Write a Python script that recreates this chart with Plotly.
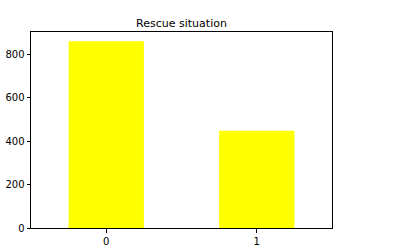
import plotly.graph_objects as go

categories = ["0", "1"]
counts = [861, 449]
title_text = "Rescue situation"
y_ticks = [0, 200, 400, 600, 800]

fig = go.Figure()
fig.add_trace(go.Bar(
    x=[0, 1], y=counts, width=0.5,
    marker=dict(color="#ffff00", line=dict(width=0)),
))

font = dict(family="DejaVu Sans", size=10, color="#000000")
fig.update_layout(
    width=394, height=249,
    margin=dict(l=31, r=62, t=32, b=21, autoexpand=False),
    paper_bgcolor="white", plot_bgcolor="white",
    showlegend=False,
    font=font,
    title=dict(text=title_text, x=(31 + 332) / 2 / 394, xanchor="center",
               y=1 - 23 / 249, yanchor="middle", font=dict(family="DejaVu Sans", size=11, color="#000")),
)
fig.update_xaxes(
    range=[-0.5, 1.5], tickmode="array", tickvals=[0, 1], ticktext=categories,
    showgrid=False, zeroline=False, showline=True, linecolor="#000", linewidth=1, mirror=True,
    ticks="outside", ticklen=3.5, tickwidth=1, tickcolor="#000", tickfont=font, automargin=False,
)
fig.update_yaxes(
    range=[0, 861 * 1.05], tickmode="array", tickvals=y_ticks,
    showgrid=False, zeroline=False, showline=True, linecolor="#000", linewidth=1, mirror=True,
    ticks="outside", ticklen=3.5, tickwidth=1, tickcolor="#000", tickfont=font, automargin=False,
)
fig.write_html("out.html")
